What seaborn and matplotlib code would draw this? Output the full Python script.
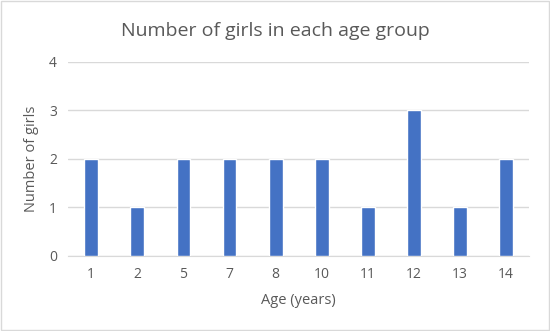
import matplotlib
matplotlib.use('Agg')
import matplotlib.pyplot as plt
import seaborn as sns
import pandas as pd

# Dados do gráfico
idades = ['1', '2', '5', '7', '8', '10', '11', '12', '13', '14']
meninas = [2, 1, 2, 2, 2, 2, 1, 3, 1, 2]

df = pd.DataFrame({'Idade': idades, 'Meninas': meninas})

sns.set_style('white')
plt.rcParams['font.family'] = ['Open Sans', 'DejaVu Sans']

cinza_txt = '#595959'
cinza_linha = '#D9D9D9'

fig = plt.figure(figsize=(5.5, 3.31), dpi=100)
ax = fig.add_axes([0.124, 0.227, 0.838, 0.586])

sns.barplot(data=df, x='Idade', y='Meninas', color='#4472C4', width=0.3,
            saturation=1, ax=ax, zorder=3)

ax.set_ylim(0, 4)
ax.set_yticks([0, 1, 2, 3, 4])
ax.set_xlim(-0.5, len(idades) - 0.5)
ax.yaxis.grid(True, color=cinza_linha, linewidth=1, zorder=0)
ax.set_axisbelow(True)
for s in ['top', 'right', 'left']:
    ax.spines[s].set_visible(False)
ax.spines['bottom'].set_color(cinza_linha)
ax.tick_params(axis='both', length=0, labelsize=10, labelcolor=cinza_txt, pad=8)

ax.set_xlabel('Age (years)', fontsize=10.5, color=cinza_txt, labelpad=8)
ax.set_ylabel('Number of girls', fontsize=10.5, color=cinza_txt, labelpad=7)
fig.text(0.5, 0.905, 'Number of girls in each age group', ha='center', va='center',
         fontsize=14, color=cinza_txt)

# Moldura externa
fig.patches.append(plt.Rectangle((0.002, 0.003), 0.996, 0.994, transform=fig.transFigure,
                                 fill=False, edgecolor=cinza_linha, linewidth=1))

fig.savefig('out.png', dpi=100)
